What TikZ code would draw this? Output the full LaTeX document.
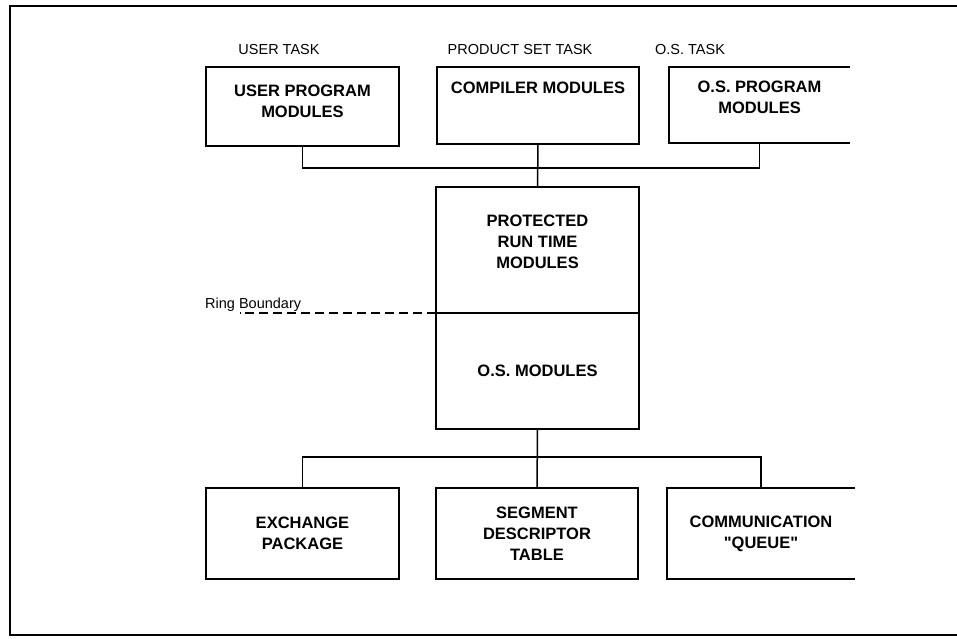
\documentclass[tikz,border=0pt]{standalone}
\usepackage{fontspec}
\setmainfont{Liberation Sans}[Ligatures=TeXOff]
\usetikzlibrary{positioning, calc}

\begin{document}
\begin{tikzpicture}[x=1pt, y=1pt,
    modbox/.style={minimum width=#1, inner sep=0pt, outer sep=0pt},
    boxline/.style={line width=1.5pt},
    wire/.style={line width=1.5pt},
    ringline/.style={line width=1.2pt, dash pattern=on 9pt off 5pt},
    boxtext/.style={inner sep=0pt, align=center, font=\bfseries\fontsize{16.5}{21}\selectfont},
    tasklabel/.style={inner sep=0pt, anchor=base, font=\fontsize{14.5}{16}\selectfont}]
  \useasboundingbox (0,0) rectangle (957,638);
  % frame
  \draw[line width=2.5pt] (957,632) -- (10,632) -- (10,3) -- (957,3);
  % task headings
  \node[tasklabel] (usertask) at (279,583) {USER TASK};
  \node[tasklabel] (prodtask) at (520,583) {PRODUCT SET TASK};
  \node[tasklabel] (ostask) at (690,583) {O.S. TASK};
  % top row
  \node[modbox=193pt, minimum height=79pt, draw, boxline] (user) at (302.5,531.5) {};
  \node[modbox=202pt, minimum height=77pt, draw, boxline] (comp) at (538,532.5) {};
  \node[modbox=181pt, minimum height=76pt] (osprog) at (759.5,533) {};
  \draw[boxline] (osprog.north east) -- (osprog.north west) -- (osprog.south west) -- (osprog.south east);
  \node[boxtext, anchor=north, below=18pt of user.north] (usertxt) {USER PROGRAM\\MODULES};
  \node[boxtext, anchor=north, below=15pt of comp.north] (comptxt) {COMPILER MODULES};
  \node[boxtext, anchor=north, below=14pt of osprog.north] (osprogtxt) {O.S. PROGRAM\\MODULES};
  % middle stack
  \node[modbox=203pt, minimum height=126pt, draw, boxline] (prot) at (537.5,388) {};
  \node[boxtext, anchor=north, below=28pt of prot.north] (prottxt) {PROTECTED\\RUN TIME\\MODULES};
  \node[modbox=203pt, minimum height=116pt, draw, boxline, boxtext] (osmod) at (537.5,267) {O.S. MODULES};
  % ring boundary
  \node[anchor=base west, inner sep=0pt, font=\fontsize{14.5}{16}\selectfont] (ring) at (205,330) {Ring Boundary};
  \coordinate (ringstart) at ($(ring.south west)!0.36!(ring.south east)$);
  \draw[ringline] (prot.south west) -- (prot.south west -| ringstart);
  % bottom row
  \node[modbox=193pt, minimum height=91pt, draw, boxline, boxtext] (exch) at (302.5,104.5) {EXCHANGE\\PACKAGE};
  \node[modbox=202pt, minimum height=91pt, draw, boxline, boxtext] (seg) at (537,104.5) {SEGMENT\\DESCRIPTOR\\TABLE};
  \node[modbox=188pt, minimum height=91pt, boxtext] (comm) at (761,104.5) {COMMUNICATION\\"QUEUE"};
  \draw[boxline] (comm.north east) -- (comm.north west) -- (comm.south west) -- (comm.south east);
  % connectors
  \draw[wire] (user.south) -- ++(0,-22) -| (osprog.south);
  \draw[wire] (comp.south) -- (prot.north);
  \draw[wire] (osmod.south) -- (seg.north);
  \draw[wire] (exch.north) -- ++(0,31) -| (comm.north);
\end{tikzpicture}
\end{document}
